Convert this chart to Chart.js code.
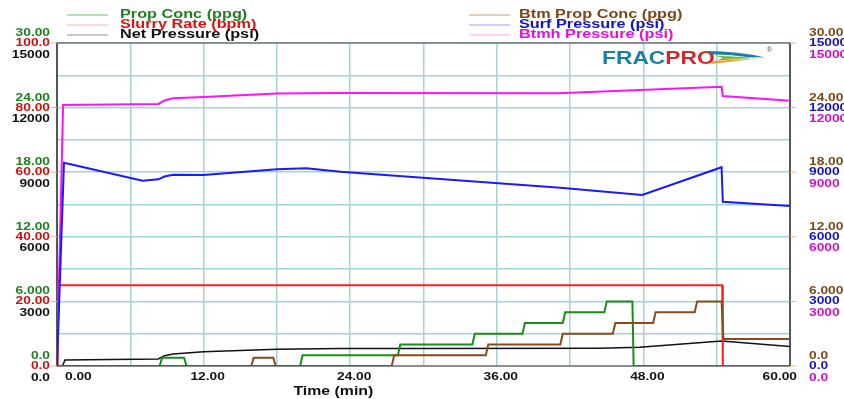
<!DOCTYPE html>
<html>
<head>
<meta charset="utf-8">
<script src="https://cdn.jsdelivr.net/npm/chart.js@4"></script>
<style>
  html, body { margin: 0; padding: 0; background: #fff; }
  canvas { display: block; }
</style>
</head>
<body>
<canvas id="fracChart" width="844" height="399"></canvas>
<script>
// --- values (time in minutes) ---
const propTime = [0, 8.4, 8.6, 10.4, 10.6, 19.9, 20.1, 27.9, 28.1, 34.0, 34.2, 38.1, 38.3, 41.4, 41.6, 44.8, 45.0, 47.1, 47.2, 60];
const propConc = [0, 0, 0.77, 0.77, 0, 0, 1, 1, 2, 2, 3, 3, 4, 4, 5, 5, 6, 6, 0, 0];

const slurryTime = [0, 0.05, 54.45, 54.5, 60];
const slurryRate = [0, 25, 25, 0, 0];

const netTime = [0, 0.45, 0.65, 8.3, 8.8, 9.5, 12, 18, 23.2, 30, 44.4, 47.7, 54.4, 60];
const netPressure = [0, 0, 280, 325, 480, 557, 664, 775, 810, 815, 830, 870, 1160, 900];

const btmTime = [0, 15.9, 16.1, 17.7, 17.9, 27.4, 27.6, 35.1, 35.3, 41.2, 41.4, 45.5, 45.7, 48.8, 49.0, 52.2, 52.4, 54.4, 54.55, 60];
const btmConc = [0, 0, 0.77, 0.77, 0, 0, 1, 1, 2, 2, 3, 3, 4, 4, 5, 5, 6, 6, 2.5, 2.5];

const surfTime = [0, 0.57, 7, 8.3, 8.8, 9.5, 12, 18, 20.4, 23.2, 41.2, 47.9, 54.4, 54.5, 60];
const surfPressure = [0, 9440, 8605, 8670, 8800, 8880, 8870, 9135, 9180, 9020, 8280, 7940, 9230, 7630, 7430];

const btmhTime = [0, 0.5, 8.3, 8.8, 9.5, 12, 18, 23, 41, 54.4, 54.5, 60];
const btmhPressure = [0, 12120, 12170, 12330, 12430, 12490, 12650, 12680, 12670, 12970, 12540, 12320];

// axis labels
const xTicks = [0, 12, 24, 36, 48, 60];
const xLabels = ['0.00', '12.00', '24.00', '36.00', '48.00', '60.00'];
const concTicks = [0, 6, 12, 18, 24, 30];
const concLabels = ['0.0', '6.000', '12.00', '18.00', '24.00', '30.00'];
const rateTicks = [0, 20, 40, 60, 80, 100];
const rateLabels = ['0.0', '20.00', '40.00', '60.00', '80.00', '100.0'];
const psiTicks = [0, 3000, 6000, 9000, 12000, 15000];
const psiLabels = ['0.0', '3000', '6000', '9000', '12000', '15000'];

const FONT = "'Liberation Sans', Arial, sans-serif";
const GRID = '#a3d3d6';
const SX = 1.32; // the original render is stretched sideways

const pts = (ts, vs) => ts.map((t, i) => ({ x: t, y: vs[i] }));

function wideText(ctx, text, x, y, align, sx) {
  ctx.save();
  ctx.translate(x, y);
  ctx.scale(sx || SX, 1);
  ctx.textAlign = align;
  ctx.fillText(text, 0, 0);
  ctx.restore();
}

const legendLeft = [
  { label: 'Prop Conc (ppg)', line: '#6dbf6d', text: '#1f7f1f' },
  { label: 'Slurry Rate (bpm)', line: '#ffb0b0', text: '#dd1111' },
  { label: 'Net Pressure (psi)', line: '#999999', text: '#111111' }
];
const legendRight = [
  { label: 'Btm Prop Conc (ppg)', line: '#c9a080', text: '#7a4716' },
  { label: 'Surf Pressure (psi)', line: '#a0a0ff', text: '#1010d0' },
  { label: 'Btmh Pressure (psi)', line: '#ffa0ff', text: '#e010e0' }
];

const fracDecor = {
  id: 'fracDecor',
  beforeDatasetsDraw(chart) {
    const { ctx, chartArea: a } = chart;
    ctx.save();
    ctx.strokeStyle = '#777';
    ctx.lineWidth = 1.5;
    ctx.strokeRect(a.left, a.top, a.right - a.left, a.bottom - a.top);
    ctx.strokeStyle = '#444';
    ctx.beginPath();
    ctx.moveTo(a.left, a.top); ctx.lineTo(a.left, a.bottom);
    ctx.moveTo(a.right, a.top); ctx.lineTo(a.right, a.bottom);
    ctx.stroke();
    ctx.restore();
  },
  afterDraw(chart) {
    const { ctx, chartArea: a, scales } = chart;
    ctx.save();
    ctx.textBaseline = 'middle';

    // y labels, three stacked per tick on each side
    ctx.font = 'bold 11px ' + FONT;
    concTicks.forEach((v, i) => {
      const yc = scales.yProp.getPixelForValue(v);
      const yr = scales.yRate.getPixelForValue(rateTicks[i]);
      const yn = scales.yNet.getPixelForValue(psiTicks[i]);
      ctx.strokeStyle = '#e6b48c';
      ctx.lineWidth = 1;
      ctx.beginPath();
      ctx.moveTo(a.left - 6, yr); ctx.lineTo(a.left, yr);
      ctx.moveTo(a.right, yr); ctx.lineTo(a.right + 6, yr);
      ctx.stroke();
      ctx.fillStyle = '#1f7f1f'; wideText(ctx, concLabels[i], a.left - 7, yc - 10, 'right', 1.25);
      ctx.fillStyle = '#cc1111'; wideText(ctx, rateLabels[i], a.left - 7, yr, 'right', 1.25);
      ctx.fillStyle = '#111'; wideText(ctx, psiLabels[i], a.left - 7, yn + 11.5, 'right', 1.25);

      const yb = scales.yBtm.getPixelForValue(v);
      const ys = scales.ySurf.getPixelForValue(psiTicks[i]);
      const yh = scales.yBtmh.getPixelForValue(psiTicks[i]);
      ctx.fillStyle = '#7a4716'; wideText(ctx, concLabels[i], a.right + 19, yb - 10, 'left', 1.25);
      ctx.fillStyle = '#1515c0'; wideText(ctx, psiLabels[i], a.right + 19, ys, 'left', 1.25);
      ctx.fillStyle = '#d010d0'; wideText(ctx, psiLabels[i], a.right + 19, yh + 11.5, 'left', 1.25);
    });

    // x labels
    ctx.fillStyle = '#111';
    xTicks.forEach((v, i) => {
      const x = scales.x.getPixelForValue(v);
      if (i === 0) wideText(ctx, xLabels[i], x + 8, a.bottom + 11, 'left', 1.25);
      else if (i === xTicks.length - 1) wideText(ctx, xLabels[i], x + 7, a.bottom + 11, 'right', 1.25);
      else wideText(ctx, xLabels[i], x + 4, a.bottom + 11, 'center', 1.25);
    });
    ctx.font = 'bold 12px ' + FONT;
    wideText(ctx, 'Time (min)', a.left + (a.right - a.left) * 0.377, a.bottom + 26, 'center');

    // legend blocks
    ctx.font = 'bold 12.5px ' + FONT;
    const drawLegend = (items, x0, x1, xt) => {
      items.forEach((it, i) => {
        const y = 15 + i * 10;
        ctx.strokeStyle = it.line;
        ctx.lineWidth = 1.2;
        ctx.beginPath(); ctx.moveTo(x0, y); ctx.lineTo(x1, y); ctx.stroke();
        ctx.fillStyle = it.text;
        wideText(ctx, it.label, xt, y, 'left', 1.3);
      });
    };
    drawLegend(legendLeft, 67, 108, 120);
    drawLegend(legendRight, 469, 510, 519);

    // FRACPRO mark
    ctx.textBaseline = 'alphabetic';
    ctx.font = 'bold 19px ' + FONT;
    const LX = 1.2;
    ctx.fillStyle = '#1b7fa6';
    wideText(ctx, 'FRAC', 602, 64, 'left', LX);
    const fracW = ctx.measureText('FRAC').width * LX;
    ctx.fillStyle = '#d02a2a';
    wideText(ctx, 'PRO', 602 + fracW, 64, 'left', LX);
    const sx0 = 602 + fracW + ctx.measureText('PRO').width * LX - 8;
    // swoosh dart
    ctx.fillStyle = '#1b7fa6';
    ctx.beginPath();
    ctx.moveTo(sx0, 51); ctx.quadraticCurveTo(sx0 + 32, 51, sx0 + 58, 57.5);
    ctx.lineTo(sx0 + 40, 57); ctx.quadraticCurveTo(sx0 + 22, 54, sx0 + 6, 54.5); ctx.closePath();
    ctx.fill();
    ctx.fillStyle = '#7dbb3a';
    ctx.beginPath();
    ctx.moveTo(sx0 + 8, 55.5); ctx.lineTo(sx0 + 50, 57.8); ctx.lineTo(sx0 + 10, 60.5); ctx.lineTo(sx0 + 16, 58); ctx.closePath();
    ctx.fill();
    ctx.fillStyle = '#f0a030';
    ctx.beginPath();
    ctx.moveTo(sx0 + 6, 61); ctx.lineTo(sx0 + 54, 58.3); ctx.lineTo(sx0 + 4, 64); ctx.closePath();
    ctx.fill();
    ctx.fillStyle = '#555';
    ctx.font = '7px ' + FONT;
    ctx.fillText('®', sx0 + 60, 52);
    ctx.restore();
  }
};

const lineSet = (label, data, color, axis, order, width) => ({
  label, data, yAxisID: axis, order,
  borderColor: color, backgroundColor: color,
  borderWidth: width || 2, pointRadius: 0, tension: 0, fill: false
});

const hiddenAxis = (max) => ({ display: false, min: 0, max });

new Chart(document.getElementById('fracChart').getContext('2d'), {
  type: 'line',
  data: {
    datasets: [
      lineSet('Prop Conc (ppg)', pts(propTime, propConc), '#1a8c1a', 'yProp', 4),
      lineSet('Slurry Rate (bpm)', pts(slurryTime, slurryRate), '#ff2020', 'yRate', 5),
      lineSet('Net Pressure (psi)', pts(netTime, netPressure), '#111111', 'yNet', 6, 1.5),
      lineSet('Btm Prop Conc (ppg)', pts(btmTime, btmConc), '#8b4a1a', 'yBtm', 3),
      lineSet('Surf Pressure (psi)', pts(surfTime, surfPressure), '#1a1aff', 'ySurf', 1),
      lineSet('Btmh Pressure (psi)', pts(btmhTime, btmhPressure), '#ff10ff', 'yBtmh', 2)
    ]
  },
  options: {
    responsive: false,
    animation: false,
    layout: { padding: { left: 57, right: 54, top: 43, bottom: 33 } },
    plugins: { legend: { display: false }, tooltip: { enabled: false } },
    scales: {
      x: {
        type: 'linear', min: 0, max: 60,
        ticks: { display: false, stepSize: 6 },
        grid: { color: GRID, lineWidth: 1.5, drawTicks: false },
        border: { display: false }
      },
      yProp: {
        position: 'left', min: 0, max: 30,
        ticks: { display: false, stepSize: 3 },
        grid: { color: GRID, lineWidth: 1.5, drawTicks: false },
        border: { display: false }
      },
      yRate: hiddenAxis(100),
      yNet: hiddenAxis(15000),
      yBtm: hiddenAxis(30),
      ySurf: hiddenAxis(15000),
      yBtmh: hiddenAxis(15000)
    }
  },
  plugins: [fracDecor]
});
</script>
</body>
</html>
